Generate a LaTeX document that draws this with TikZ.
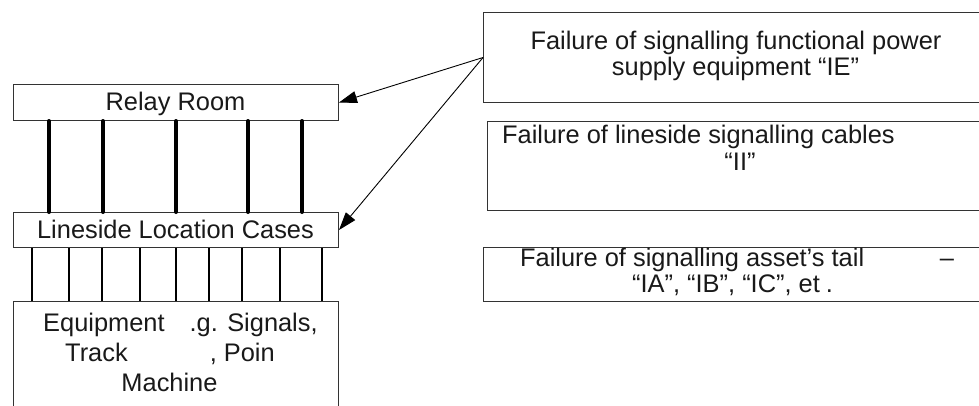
\documentclass[tikz,border=0pt]{standalone}
\usepackage{fontspec}
\setmainfont{Liberation Sans}
\usetikzlibrary{arrows.meta}
\begin{document}
\begin{tikzpicture}[x=1pt,y=-1pt,
  box/.style={draw=black!80, line width=1pt, rectangle, inner sep=0pt, anchor=north west},
  txt/.style={inner sep=0pt, font=\fontsize{25.4}{29}\selectfont, text=black!90},
  cable/.style={line width=4pt, line cap=round},
  tail/.style={line width=2pt},
  pointer/.style={line width=0.9pt, -{Triangle[length=18pt,width=12pt]}}]
\useasboundingbox (0,0) rectangle (979,405);
\begin{scope}
\clip (0,0) rectangle (979,405);

% signalling hierarchy on the left
\node[box, minimum width=325pt, minimum height=36pt] (rr) at (13,84) {};
\node[box, minimum width=325pt, minimum height=35pt] (lc) at (13,212) {};
\node[box, minimum width=325pt, minimum height=120pt] (eq) at (13,301) {};

\node[txt, anchor=base] (rrt) at (175.5,110) {Relay Room};
\node[txt, anchor=base] (lct) at (175.5,238) {Lineside Location Cases};
\node[txt, anchor=base west] (eq1) at (43,331) {Equipment\hspace{18pt} .g. Signals,};
\node[txt, anchor=base west] (eq2) at (65,361) {Track\hspace{82pt}, Poin};
\node[txt, anchor=base] (eq3) at (169.5,391) {Machine};

% main cables between relay room and location cases
\foreach \x in {49,103,176,248,302}
  \draw[cable] (rr.south -| \x,0) -- (lc.north -| \x,0);

% tail cables to lineside equipment
\foreach \x in {32,69,102,140,176,209,242,280,322}
  \draw[tail] (lc.south -| \x,0) -- (eq.north -| \x,0);

% failure categories on the right
\node[box, minimum width=507pt, minimum height=90pt] (ie) at (483,12) {};
\node[box, minimum width=503pt, minimum height=89pt] (ii) at (487,121) {};
\node[box, minimum width=507pt, minimum height=54pt] (ia) at (483,247) {};

\node[txt, anchor=base] (ie1) at (736,49) {Failure of signalling functional power};
\node[txt, anchor=base] (ie2) at (735.5,75) {supply equipment “IE”};
\node[txt, anchor=base west] (ii1) at (502,143) {Failure of lineside signalling cables};
\node[txt, anchor=base] (ii2) at (740,170) {“II”};
\node[txt, anchor=base west] (ia1) at (520,266.5) {Failure of signalling asset’s tail};
\node[txt, anchor=base] (iadash) at (947,266.5) {–};
\node[txt, anchor=base west] (ia2) at (632,292) {“IA”, “IB”, “IC”, et\hspace{6pt}.};

% power supply failures affect both relay room and location cases
\draw[pointer] (ie.west) -- (rr.east);
\draw[pointer] (ie.west) -- (lc.east);
\end{scope}
\end{tikzpicture}
\end{document}
